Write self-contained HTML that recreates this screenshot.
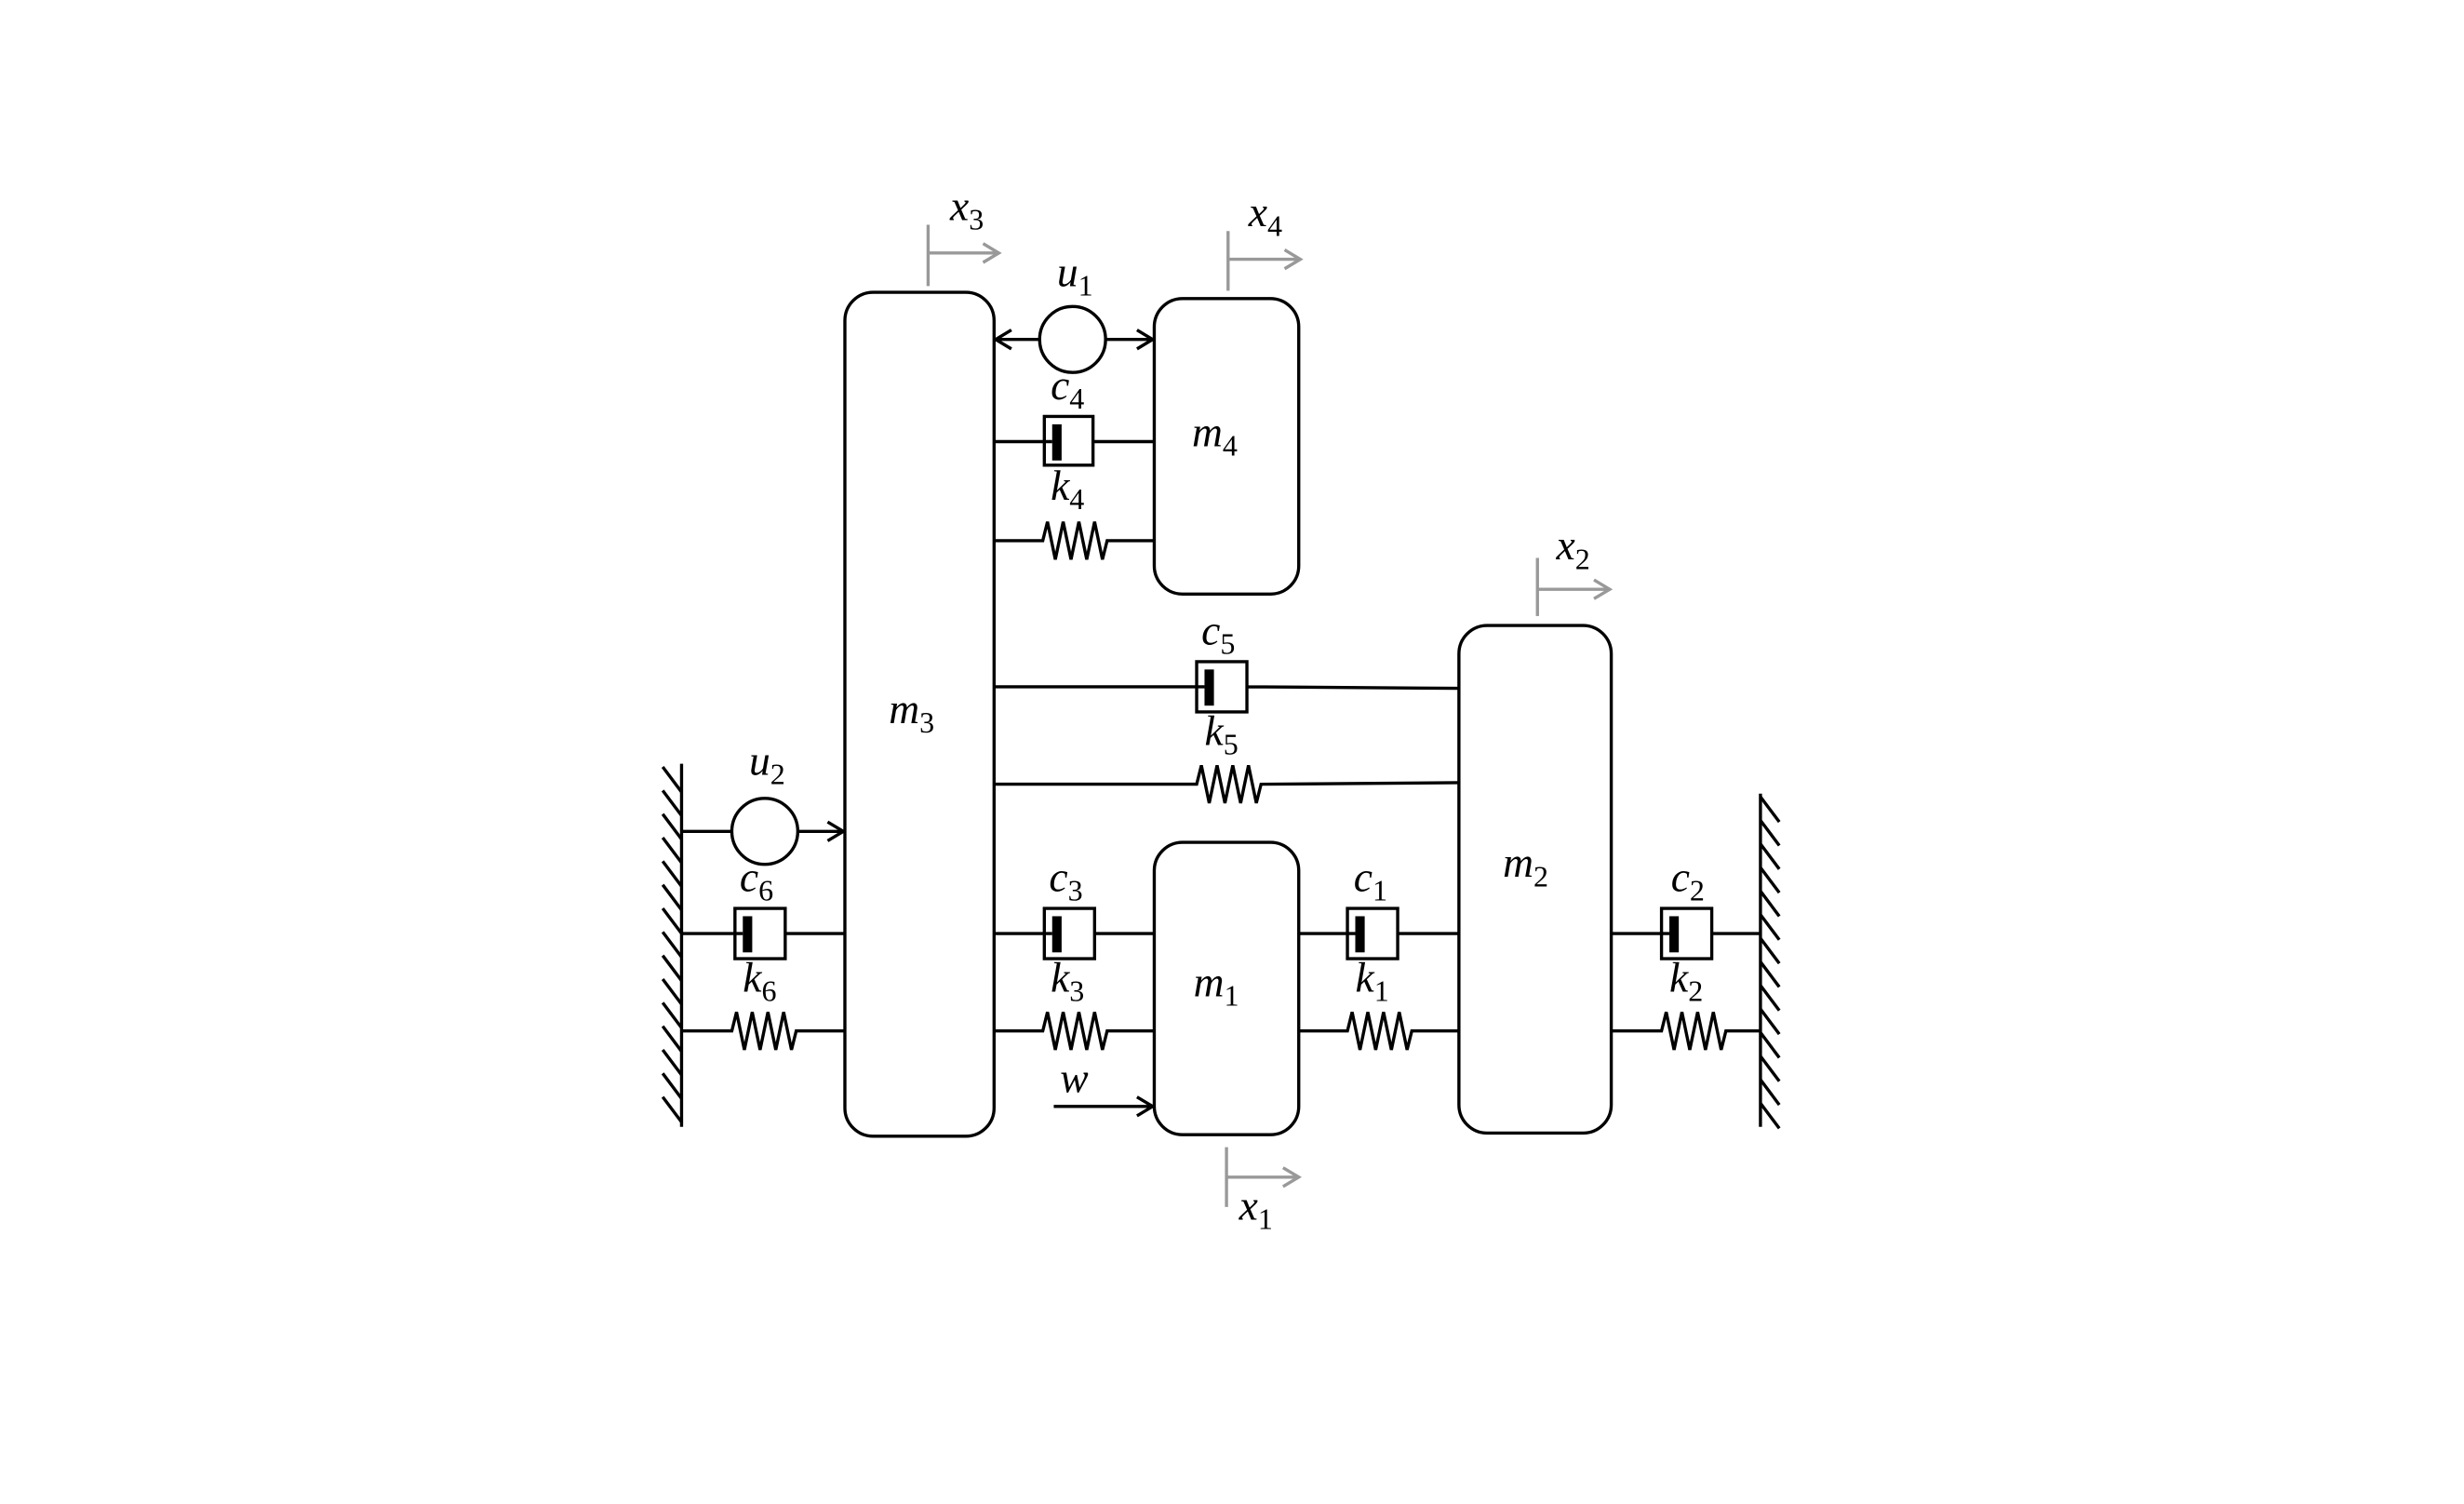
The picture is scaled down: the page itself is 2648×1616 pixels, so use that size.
<!DOCTYPE html>
<html><head><meta charset="utf-8"><style>
html,body{margin:0;padding:0;background:#fff;}
svg{display:block;}
text{font-family:"Liberation Serif",serif;font-style:italic;font-size:27px;fill:#000;}
tspan.s{font-style:normal;font-size:19px;}
</style></head><body>
<svg width="2648" height="1616" viewBox="0 0 1569 957" preserveAspectRatio="none" xmlns="http://www.w3.org/2000/svg">
<defs>
<marker id="ah" markerWidth="14" markerHeight="14" refX="12" refY="7" orient="auto" markerUnits="userSpaceOnUse">
<path d="M2,1 L12,7 L2,13" fill="none" stroke="#000" stroke-width="2"/></marker>
<marker id="ag" markerWidth="14" markerHeight="14" refX="12" refY="7" orient="auto" markerUnits="userSpaceOnUse">
<path d="M2,1 L12,7 L2,13" fill="none" stroke="#999" stroke-width="2"/></marker>
</defs>
<g fill="none" stroke="#000" stroke-width="2">
<rect x="538" y="186" width="95" height="537" rx="18"/>
<rect x="735" y="190" width="92" height="188" rx="18"/>
<rect x="929" y="398" width="97" height="323" rx="18"/>
<rect x="735" y="536" width="92" height="186" rx="18"/>
<line x1="434" y1="486" x2="434" y2="717"/>
<line x1="1121" y1="505" x2="1121" y2="717"/>
<path d="M422,488 l12,16 M422,503 l12,16 M422,518 l12,16 M422,533 l12,16 M422,548 l12,16 M422,563 l12,16 M422,578 l12,16 M422,593 l12,16 M422,608 l12,16 M422,623 l12,16 M422,638 l12,16 M422,653 l12,16 M422,668 l12,16 M422,683 l12,16 M422,698 l12,16"/>
<path d="M1121,507 l12,16 M1121,522 l12,16 M1121,537 l12,16 M1121,552 l12,16 M1121,567 l12,16 M1121,582 l12,16 M1121,597 l12,16 M1121,612 l12,16 M1121,627 l12,16 M1121,642 l12,16 M1121,657 l12,16 M1121,672 l12,16 M1121,687 l12,16 M1121,702 l12,16"/>
<circle cx="683" cy="216" r="21"/>
<line x1="662" y1="216" x2="634" y2="216" marker-end="url(#ah)"/>
<line x1="704" y1="216" x2="734" y2="216" marker-end="url(#ah)"/>
<circle cx="487" cy="529" r="21"/>
<line x1="434" y1="529" x2="466" y2="529"/>
<line x1="508" y1="529" x2="537" y2="529" marker-end="url(#ah)"/>
<line x1="671" y1="704" x2="734" y2="704" marker-end="url(#ah)"/>
<g>
<path d="M633,281 H670 M665,265 H696 V296 H665 Z M696,281 H735"/>
<path d="M633,437 H767 M762,421 H794 V453 H762 Z M794,437 L929,438"/>
<path d="M434,594 H473 M468,578 H500 V610 H468 Z M500,594 H538"/>
<path d="M633,594 H670 M665,578 H697 V610 H665 Z M697,594 H735"/>
<path d="M827,594 H863 M858,578 H890 V610 H858 Z M890,594 H929"/>
<path d="M1026,594 H1063 M1058,578 H1090 V610 H1058 Z M1090,594 H1121"/>
</g>
<path d="M633,344 H664 l3,-12 l5,24 l5,-24 l5,24 l5,-24 l5,24 l5,-24 l5,24 l3,-12 H735"/>
<path d="M633,499 H762 l3,-12 l5,24 l5,-24 l5,24 l5,-24 l5,24 l5,-24 l5,24 l3,-12 L929,498"/>
<path d="M434,656 H466 l3,-12 l5,24 l5,-24 l5,24 l5,-24 l5,24 l5,-24 l5,24 l3,-12 H538"/>
<path d="M633,656 H664 l3,-12 l5,24 l5,-24 l5,24 l5,-24 l5,24 l5,-24 l5,24 l3,-12 H735"/>
<path d="M827,656 H858 l3,-12 l5,24 l5,-24 l5,24 l5,-24 l5,24 l5,-24 l5,24 l3,-12 H929"/>
<path d="M1026,656 H1058 l3,-12 l5,24 l5,-24 l5,24 l5,-24 l5,24 l5,-24 l5,24 l3,-12 H1121"/>
</g>
<g fill="#000">
<rect x="670" y="270" width="6" height="23"/>
<rect x="767" y="426" width="6" height="23"/>
<rect x="473" y="583" width="6" height="23"/>
<rect x="670" y="583" width="6" height="23"/>
<rect x="863" y="583" width="6" height="23"/>
<rect x="1063" y="583" width="6" height="23"/>
</g>
<g stroke="#999" stroke-width="2" fill="none">
<line x1="591" y1="143" x2="591" y2="182"/><line x1="591" y1="161" x2="636" y2="161" marker-end="url(#ag)"/>
<line x1="782" y1="147" x2="782" y2="185"/><line x1="782" y1="165" x2="828" y2="165" marker-end="url(#ag)"/>
<line x1="979" y1="355" x2="979" y2="392"/><line x1="979" y1="375" x2="1025" y2="375" marker-end="url(#ag)"/>
<line x1="781" y1="730" x2="781" y2="768"/><line x1="781" y1="749" x2="827" y2="749" marker-end="url(#ag)"/>
</g>
<text x="605" y="140">x<tspan class="s" dy="6">3</tspan></text>
<text x="795" y="144">x<tspan class="s" dy="6">4</tspan></text>
<text x="991" y="356">x<tspan class="s" dy="6">2</tspan></text>
<text x="789" y="776">x<tspan class="s" dy="6">1</tspan></text>
<text x="673" y="182">u<tspan class="s" dy="6">1</tspan></text>
<text x="477" y="493">u<tspan class="s" dy="6">2</tspan></text>
<text x="669" y="254">c<tspan class="s" dy="6">4</tspan></text>
<text x="669" y="318">k<tspan class="s" dy="6">4</tspan></text>
<text x="765" y="410">c<tspan class="s" dy="6">5</tspan></text>
<text x="767" y="474">k<tspan class="s" dy="6">5</tspan></text>
<text x="471" y="567">c<tspan class="s" dy="6">6</tspan></text>
<text x="473" y="631">k<tspan class="s" dy="6">6</tspan></text>
<text x="668" y="567">c<tspan class="s" dy="6">3</tspan></text>
<text x="669" y="631">k<tspan class="s" dy="6">3</tspan></text>
<text x="862" y="567">c<tspan class="s" dy="6">1</tspan></text>
<text x="863" y="631">k<tspan class="s" dy="6">1</tspan></text>
<text x="1064" y="567">c<tspan class="s" dy="6">2</tspan></text>
<text x="1063" y="631">k<tspan class="s" dy="6">2</tspan></text>
<text x="675" y="695">w</text>
<text x="759" y="284">m<tspan class="s" dy="6">4</tspan></text>
<text x="566" y="460">m<tspan class="s" dy="6">3</tspan></text>
<text x="957" y="558">m<tspan class="s" dy="6">2</tspan></text>
<text x="760" y="634">m<tspan class="s" dy="6">1</tspan></text>
</svg>
</body></html>
